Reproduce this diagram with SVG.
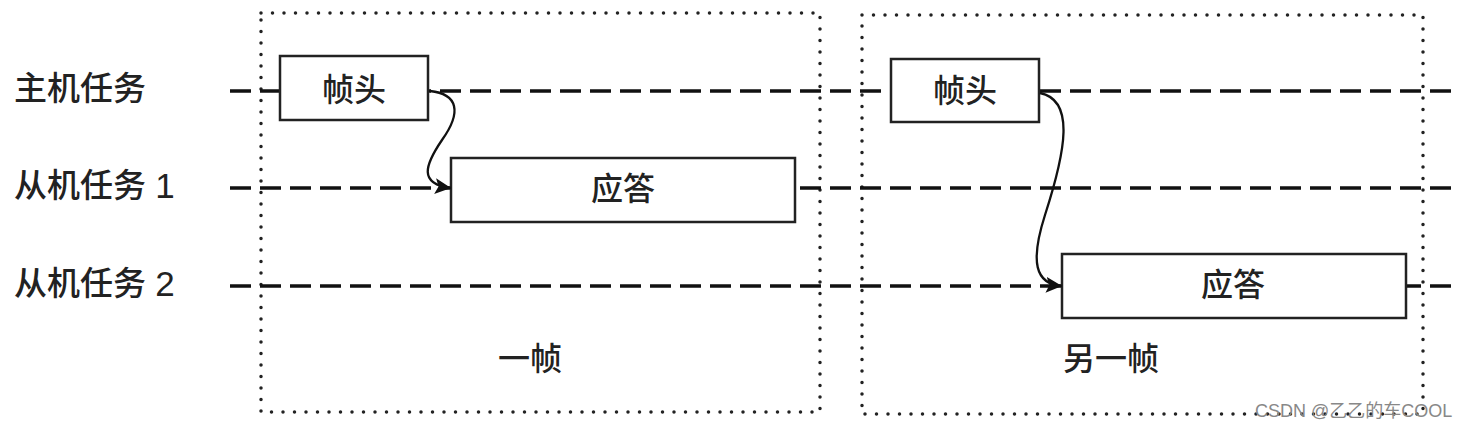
<svg xmlns="http://www.w3.org/2000/svg" width="1469" height="429" viewBox="0 0 1469 429">
<style>
.bg{fill:#fff}
.frame{fill:none;stroke:#222;stroke-width:3.5;stroke-dasharray:0 11.5;stroke-linecap:round}
.lane{fill:none;stroke:#111;stroke-width:3.5;stroke-dasharray:21 9}
.box{fill:#fff;stroke:#222;stroke-width:2.5}
.t{font-family:"Noto Sans CJK SC","Liberation Sans",sans-serif;font-size:32px;font-weight:500;fill:#222;dominant-baseline:central}
.lbl{font-family:"Liberation Sans","Noto Sans CJK SC",sans-serif;font-size:33px;font-weight:500;fill:#222;dominant-baseline:central}
.wm{font-family:"Liberation Sans","Noto Sans CJK SC",sans-serif;font-size:18px;fill:#888}
.curve{fill:none;stroke:#111;stroke-width:2.3}
</style>
<defs>
<marker id="arrow" viewBox="0 0 14 14" refX="14" refY="7" markerWidth="16" markerHeight="16" orient="auto" markerUnits="userSpaceOnUse">
<path d="M0,0 L14,7 L0,14 L3,7 z" fill="#111"/>
</marker>
</defs>
<rect class="bg" width="1469" height="429"/>
<g id="frames">
<rect id="frame1" class="frame" x="261" y="13" width="559" height="399"/>
<rect id="frame2" class="frame" x="862" y="15" width="561" height="399"/>
</g>
<g id="lanes">
<line class="lane" x1="230" y1="91" x2="1460" y2="91"/>
<line class="lane" x1="230" y1="188" x2="1460" y2="188"/>
<line class="lane" x1="230" y1="286" x2="1460" y2="286"/>
</g>
<g id="labels">
<text class="lbl" x="14" y="88">主机任务</text>
<text class="lbl" x="14" y="185">从机任务 <tspan font-size="35">1</tspan></text>
<text class="lbl" x="14" y="283">从机任务 <tspan font-size="35">2</tspan></text>
</g>
<g id="header1"><rect class="box" x="280" y="56" width="148" height="64"/><text class="t" x="354" y="87" text-anchor="middle">帧头</text></g>
<g id="resp1"><rect class="box" x="451" y="158" width="344" height="64"/><text class="t" x="623" y="186" text-anchor="middle">应答</text></g>
<g id="header2"><rect class="box" x="891" y="59" width="148" height="63"/><text class="t" x="965" y="88" text-anchor="middle">帧头</text></g>
<g id="resp2"><rect class="box" x="1062" y="254" width="344" height="64"/><text class="t" x="1233" y="282" text-anchor="middle">应答</text></g>
<g id="connectors">
<path class="curve" d="M430,91 C458,94 462,112 442,140 C425,165 418,184 451,188" marker-end="url(#arrow)"/>
<path class="curve" d="M1040,93 C1075,100 1066,150 1045,215 C1030,262 1035,284 1062,286" marker-end="url(#arrow)"/>
</g>
<g id="captions">
<text class="t" x="530" y="356" text-anchor="middle">一帧</text>
<text class="t" x="1111" y="356" text-anchor="middle">另一帧</text>
</g>
<text class="wm" x="1255" y="417">CSDN @乙乙的车COOL</text>
</svg>
